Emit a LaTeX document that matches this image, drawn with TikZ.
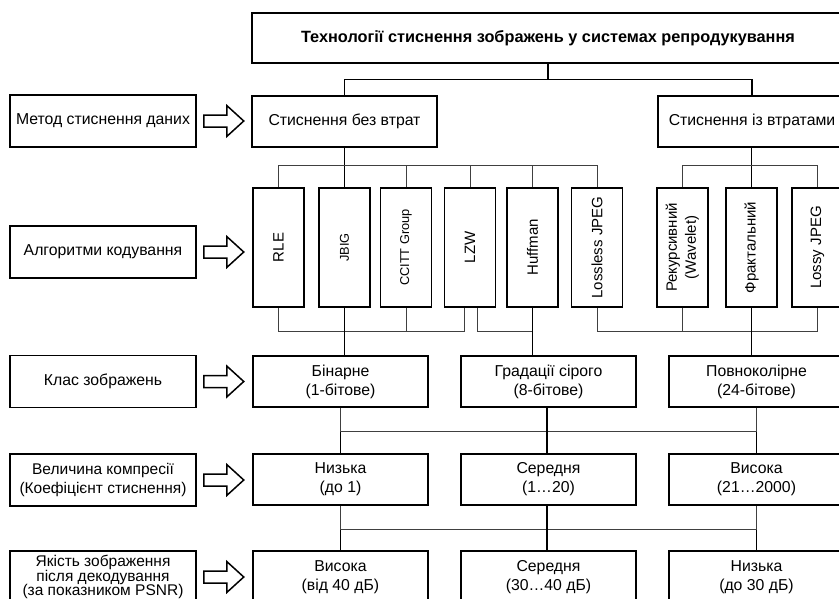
\documentclass[tikz,border=0pt]{standalone}
\usepackage{fontspec}
\setmainfont{Liberation Sans}
\usepackage{graphicx}
\usetikzlibrary{calc}
\begin{document}
\begin{tikzpicture}[x=1pt,y=-1pt,
  box/.style={draw=black, line width=1.5pt, fill=white, align=center, inner sep=1pt, font=\fontsize{15.8}{19}\selectfont},
  lbl/.style={box, minimum width=186pt, minimum height=52pt},
  rowbox/.style={box, minimum width=175pt, minimum height=51pt},
  algo/.style={box, minimum width=51pt, minimum height=119pt, font=\fontsize{15}{19}\selectfont},
  smallalgo/.style={algo, font=\fontsize{12.8}{15}\selectfont},
  trunk/.style={draw=black, line width=1.3pt},
  branch/.style={draw=black!75, line width=0.9pt},
  harrow/.style={draw=black, line width=1.5pt, fill=white, line join=miter}
]
\useasboundingbox (0,0) rectangle (839,598);
\clip (0,0) rectangle (839,598);

% top
\node[box, minimum width=592pt, minimum height=50pt, font=\bfseries\fontsize{16.3}{18}\selectfont] (title) at (548,38) {Технології стиснення зображень у системах репродукування};
\node[box, minimum width=185pt, minimum height=51pt] (lossless) at (344.5,121.5) {Стиснення без втрат};
\node[box, minimum width=188pt, minimum height=51pt] (lossy) at (752,121.5) {Стиснення із втратами};

% left labels
\node[lbl] (Lmethod) at (103,121) {Метод стиснення даних};
\node[lbl] (Lalgo) at (103,252) {Алгоритми кодування};
\node[lbl] (Lclass) at (103,381.5) {Клас зображень};
\node[lbl, font=\fontsize{15.5}{19}\selectfont] (Lcomp) at (103,480) {Величина компресії\\(Коефіцієнт стиснення)};
\node[lbl, font=\fontsize{15.5}{14.5}\selectfont] (Lqual) at (103,577) {Якість зображення\\після декодування\\(за показником PSNR)};

% algorithms
\node[algo] (rle) at (278.5,247.5) {\rotatebox{90}{RLE}};
\node[smallalgo] (jbig) at (344.5,247.5) {\rotatebox{90}{JBIG}};
\node[smallalgo] (ccitt) at (406,247.5) {\rotatebox{90}{CCITT Group}};
\node[algo] (lzw) at (470,247.5) {\rotatebox{90}{LZW}};
\node[algo] (huff) at (532.5,247.5) {\rotatebox{90}{Huffman}};
\node[algo] (ljpeg) at (597,247.5) {\rotatebox{90}{Lossless JPEG}};
\node[algo] (rek) at (682.5,247.5) {\rotatebox{90}{\begin{tabular}{@{}c@{}}Рекурсивний\\(Wavelet)\end{tabular}}};
\node[algo] (fract) at (751.5,247.5) {\rotatebox{90}{Фрактальний}};
\node[algo] (lossyj) at (817.5,247.5) {\rotatebox{90}{Lossy JPEG}};

% rows
\node[rowbox] (bin) at (340.5,381.5) {Бінарне\\(1-бітове)};
\node[rowbox] (gray) at (548.5,381.5) {Градації сірого\\(8-бітове)};
\node[rowbox] (full) at (756.5,381.5) {Повноколірне\\(24-бітове)};
\node[rowbox] (clow) at (340.5,479.5) {Низька\\(до 1)};
\node[rowbox] (cmid) at (548.5,479.5) {Середня\\(1…20)};
\node[rowbox] (chigh) at (756.5,479.5) {Висока\\(21…2000)};
\node[rowbox, minimum height=52pt] (qhigh) at (340.5,577) {Висока\\(від 40 дБ)};
\node[rowbox, minimum height=52pt] (qmid) at (548.5,577) {Середня\\(30…40 дБ)};
\node[rowbox, minimum height=52pt] (qlow) at (756.5,577) {Низька\\(до 30 дБ)};

% title -> methods
\coordinate (j0) at ($(title.south)+(0,16)$);
\draw[trunk] (title.south) -- (j0);
\draw[trunk] (lossless.north) |- (j0) -| (lossy.north);

% methods -> algorithms
\coordinate (j1) at ($(lossless.south)+(0,18)$);
\draw[trunk] (lossless.south) -- (jbig.north);
\draw[branch] (rle.north) |- (ljpeg.north |- j1) -- (ljpeg.north);
\foreach \n in {ccitt,lzw,huff} \draw[branch] (\n.north) -- (\n.north |- j1);
\draw[trunk] (fract.north |- lossy.south) -- (fract.north);
\draw[branch] (rek.north) |- (lossyj.north |- j1) -- (lossyj.north);

% algorithms -> classes
\coordinate (j2) at ($(rle.south)+(0,24)$);
\draw[branch] (rle.south) |- ($(lzw.south |- j2)+(-6,0)$) -- ($(lzw.south)+(-6,0)$);
\draw[branch] (ccitt.south) -- (ccitt.south |- j2);
\draw[trunk] (jbig.south) -- (jbig.south |- bin.north);
\draw[branch] ($(lzw.south)+(7,0)$) |- (huff.south |- j2);
\draw[trunk] (huff.south) -- (huff.south |- gray.north);
\draw[branch] (ljpeg.south) |- (lossyj.south |- j2) -- (lossyj.south);
\draw[branch] (rek.south) -- (rek.south |- j2);
\draw[trunk] (fract.south) -- (fract.south |- full.north);

% classes -> compression
\coordinate (j3) at ($(bin.south)+(0,24)$);
\draw[branch] (bin.south |- j3) -- (full.south |- j3);
\draw[branch] (bin.south) -- (bin.south |- j3);
\draw[trunk] (bin.south |- j3) -- (clow.north);
\draw[trunk] ($(gray.south)+(-1.5,0)$) -- ($(cmid.north)+(-1.5,0)$);
\draw[branch] (full.south) -- (full.south |- j3);
\draw[trunk] (full.south |- j3) -- (chigh.north);

% compression -> quality
\coordinate (j4) at ($(clow.south)+(0,24)$);
\draw[branch] (clow.south |- j4) -- (chigh.south |- j4);
\draw[branch] (clow.south) -- (clow.south |- j4);
\draw[trunk] (clow.south |- j4) -- (qhigh.north);
\draw[trunk] ($(cmid.south)+(-1.5,0)$) -- ($(qmid.north)+(-1.5,0)$);
\draw[branch] (chigh.south) -- (chigh.south |- j4);
\draw[trunk] (chigh.south |- j4) -- (qlow.north);

% hollow block arrows
\foreach \n in {Lmethod,Lalgo,Lclass,Lcomp,Lqual}
  \draw[harrow] ($(\n.east)+(7,-6)$) -- ++(23,0) -- ++(0,-9.5) -- ++(17,15.5) -- ++(-17,15.5) -- ++(0,-9.5) -- ++(-23,0) -- cycle;
\end{tikzpicture}
\end{document}
